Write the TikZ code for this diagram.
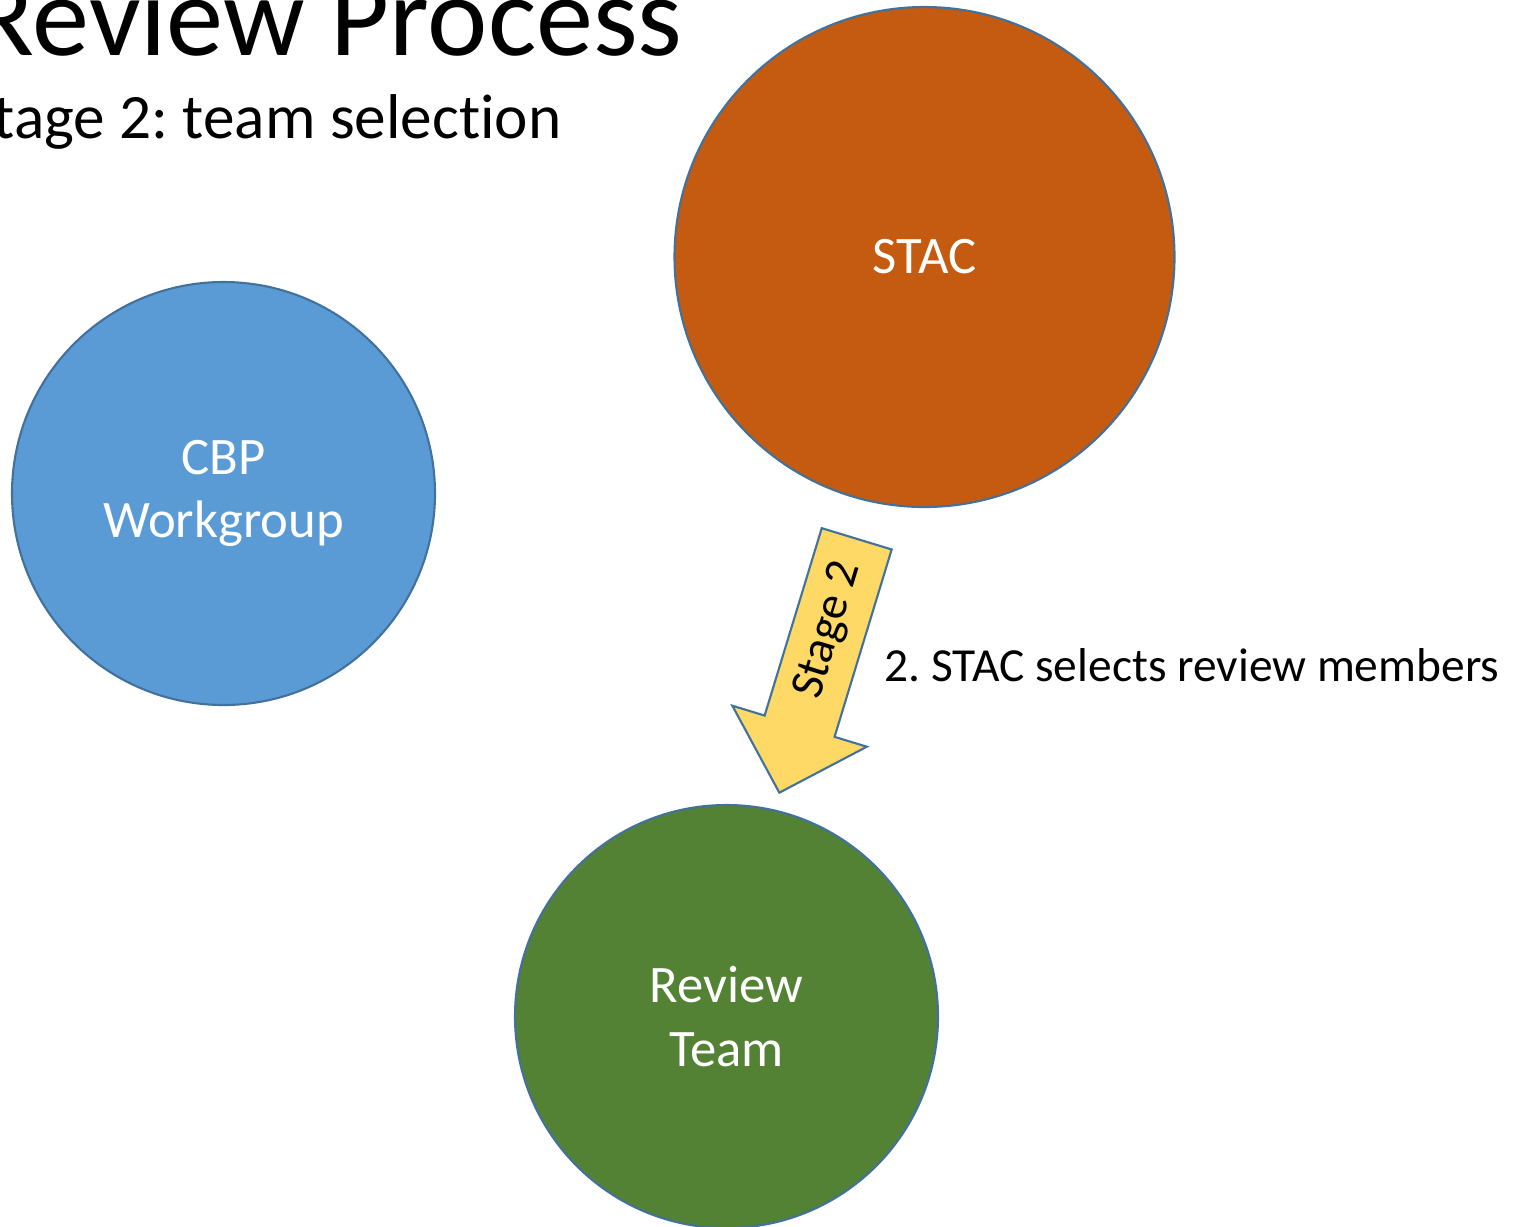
\documentclass[tikz,border=0pt]{standalone}
\usepackage{fontspec}
\setmainfont{Carlito}[Ligatures=NoCommon]
\usetikzlibrary{positioning, calc}
\definecolor{stacorange}{RGB}{197, 90, 17}
\definecolor{cbpblue}{RGB}{91, 155, 213}
\definecolor{teamgreen}{RGB}{84, 130, 53}
\definecolor{stageyellow}{RGB}{255, 217, 102}
\definecolor{edgeblue}{RGB}{65, 113, 156}
\tikzset{
  party/.style={draw=edgeblue, line width=0.6pt, circle, inner sep=0pt, text=white, align=center, font=\fontsize{15}{18}\selectfont},
  stagearrow/.style={draw=edgeblue, fill=stageyellow, line width=0.6pt, line join=miter},
}
\frenchspacing

\begin{document}
\begin{tikzpicture}
  \useasboundingbox (0,0) rectangle (15.16,-12.26);
  \clip (0,0) rectangle (15.16,-12.26);

  % Slide title
  \node[anchor=base east, inner sep=0pt, font=\fontsize{32.5}{36}\selectfont] (title) at (6.83,-0.55) {Review Process};
  \node[anchor=base east, inner sep=0pt, font=\fontsize{18}{22}\selectfont] (subtitle) at (5.62,-1.38) {Stage 2: team selection};

  % Parties
  \node[party, fill=stacorange, minimum size=5cm] (stac) at (9.245,-2.57) {STAC};
  \node[party, fill=cbpblue, minimum size=4.23cm] (cbp) at (2.235,-4.935) {CBP\\Workgroup};
  \node[party, fill=teamgreen, minimum size=4.23cm] (team) at (7.265,-10.165) {Review\\Team};

  % Stage arrow (block arrow from STAC towards the review team)
  \begin{scope}[shift={(8.567,-5.388)}, rotate=-106.95]
    \draw[stagearrow] (0,0.3655) -- (1.959,0.3655) -- (1.959,0.703) -- (2.654,0)
      -- (1.959,-0.703) -- (1.959,-0.3655) -- (0,-0.3655) -- cycle;
    \node[rotate=73.05, inner sep=0pt, font=\fontsize{13.5}{16}\selectfont] (stage) at (0.96,0) {Stage 2};
  \end{scope}
  \node[anchor=base west, inner sep=0pt, font=\fontsize{13.5}{16}\selectfont] (selects) at (8.84,-6.81) {2. STAC selects review members};
\end{tikzpicture}
\end{document}
